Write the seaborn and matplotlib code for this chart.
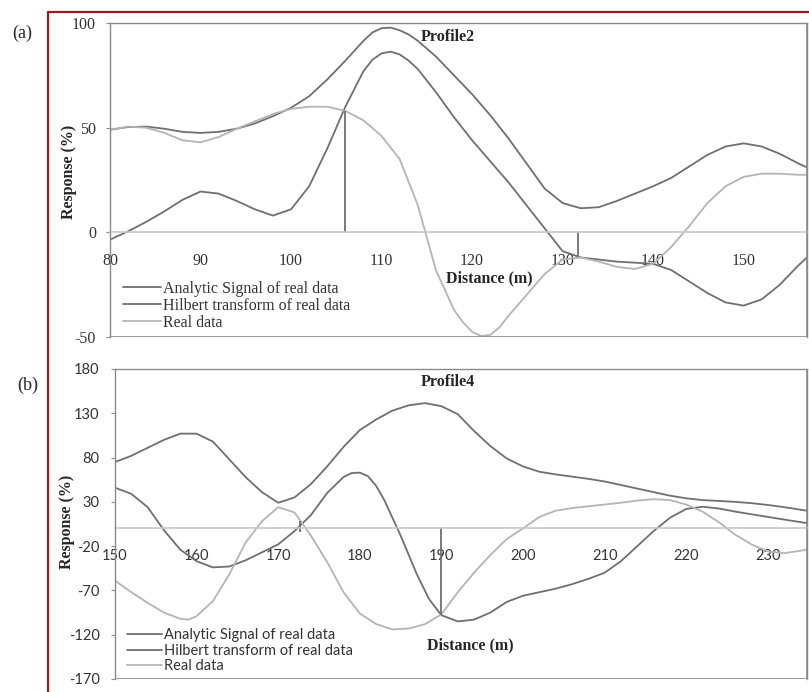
import matplotlib
matplotlib.use('Agg')
import numpy as np
import pandas as pd
import matplotlib.pyplot as plt
from matplotlib.lines import Line2D
import seaborn as sns

sns.set_style("white")
plt.rcParams['font.family'] = ['Liberation Serif', 'DejaVu Serif']
plt.rcParams['axes.unicode_minus'] = False

# Profile 2 (panel a)
dist_a = [80, 82, 84, 86, 88, 90, 92, 94, 96, 98, 100, 102, 104, 106, 108, 109, 110, 111, 112,
          113, 114, 116, 118, 120, 122, 124, 126, 128, 130, 132, 134, 136, 138, 140, 142, 144,
          146, 148, 150, 152, 154, 156, 157]
analytic_a = [49, 50.3, 50.5, 49.5, 48, 47.5, 48, 49.5, 52, 55.5, 59.5, 65, 73, 82, 91.5, 95.5,
              97.5, 97.8, 96.5, 94.5, 91.5, 84, 75, 66, 56, 45, 33, 21, 14, 11.5, 12, 15, 18.5,
              22, 26, 31.5, 37, 41, 42.5, 41, 37.5, 33, 31]
hilbert_a = [-3.5, 0.5, 5, 10, 15.5, 19.5, 18.5, 15, 11, 8, 11, 22, 40, 60, 77, 82.5, 85.5,
             86.3, 85, 82, 78, 67, 55, 44, 34, 24, 13, 2, -9, -12, -13, -14, -14.5, -15, -18,
             -23.5, -29, -33.5, -35, -32, -25, -16, -12]
dist_a_real = [80, 82, 84, 86, 88, 90, 92, 94, 96, 98, 100, 102, 104, 106, 108, 110, 112, 114,
               116, 118, 119, 120, 121, 122, 123, 124, 126, 128, 130, 132, 134, 136, 138, 140,
               142, 144, 146, 148, 150, 152, 154, 156, 157]
real_a = [49, 50.5, 50, 47.5, 44, 43, 45.5, 49.5, 53, 56.5, 59, 60, 60, 58, 53.5, 46, 35, 13,
          -18, -37, -43, -47.5, -49.5, -49, -45.5, -40, -30, -20, -13, -12, -14, -16.5, -17.5,
          -15, -7, 3, 14, 22, 26.5, 28, 28, 27.5, 27.5]
mark_a_x = [106, 131.7]
mark_a_y0 = [0, 0]
mark_a_y1 = [58, -11.5]

# Profile 4 (panel b)
dist_b = [150, 152, 154, 156, 158, 160, 162, 164, 166, 168, 170, 172, 174, 176, 178, 180,
          182, 184, 186, 188, 190, 192, 194, 196, 198, 200, 202, 204, 206, 208, 210, 212,
          214, 216, 218, 220, 222, 224, 226, 228, 230, 232, 234.8]
analytic_b = [75, 82, 91, 100, 107, 107, 98, 78, 58, 41, 29, 35, 50, 70, 92, 111, 123, 133,
              139, 141.5, 138, 129, 110, 93, 79, 70, 64, 61, 58.5, 56, 53, 49, 45, 41, 37, 34,
              32, 31, 30, 28.5, 26.5, 24, 20]
dist_b_hil = [150, 152, 154, 156, 158, 160, 162, 164, 166, 168, 170, 172, 174, 176, 178, 179,
              180, 181, 182, 183, 185, 187, 188.5, 190, 192, 194, 196, 198, 200, 202, 204, 206,
              208, 210, 212, 214, 216, 218, 220, 222, 224, 226, 228, 230, 232, 234.8]
hilbert_b = [46, 39, 24, -2, -24, -37, -44, -43, -36, -27, -18, -3, 15, 40, 58, 62.5, 63, 59,
             48, 32, -8, -52, -80, -98, -105, -103, -95, -83, -76, -72, -68, -63, -57, -50,
             -37, -20, -3, 12, 22, 24.5, 22.5, 19, 16, 13, 10, 6]
dist_b_real = [150, 152, 154, 156, 158, 159, 160, 162, 164, 166, 168, 170, 172, 174, 176, 178,
               180, 182, 184, 186, 188, 190, 192, 194, 196, 198, 200, 202, 204, 206, 208, 210,
               212, 214, 216, 218, 220, 222, 224, 226, 228, 230, 232, 234.8]
real_b = [-59, -72, -84, -95, -102, -103, -99, -82, -52, -16, 8, 24, 18, -8, -38, -72, -96,
          -108, -114, -113, -108, -97, -72, -50, -30, -12, 0, 13, 20, 23, 25, 27, 29, 31.5, 33,
          32, 27, 19, 7, -7, -18, -26, -28, -24]
mark_b_x = [172.7, 190]
mark_b_y0 = [-4, 0]
mark_b_y1 = [8, -98]

labels = ['Analytic Signal of real data', 'Hilbert transform of real data', 'Real data']
DARK = '#6f6f6f'
LIGHT = '#b4b4b4'
FRAME = '#8a8a8a'

fig = plt.figure(figsize=(8.09, 6.92), dpi=100)
ax_a = fig.add_axes([110 / 809, 1 - 337 / 692, 697 / 809, 314 / 692])
ax_b = fig.add_axes([115 / 809, 1 - 679 / 692, 692 / 809, 310 / 692])


def style_axes(ax, xlim, ylim, xticks, yticks, font, tick_size, ypad):
    ax.set_xlim(*xlim)
    ax.set_ylim(*ylim)
    ax.set_xticks(xticks)
    ax.set_yticks(yticks)
    for side in ['top', 'right', 'left']:
        ax.spines[side].set_color(FRAME)
        ax.spines[side].set_linewidth(1.0)
    ax.spines['bottom'].set_position(('data', 0))
    ax.spines['bottom'].set_color('#c8c8c8')
    ax.spines['bottom'].set_linewidth(1.2)
    ax.add_patch(plt.Rectangle((0, 0), 1, 1, transform=ax.transAxes, fill=False,
                               edgecolor=FRAME, linewidth=1.2, zorder=5))
    ax.tick_params(axis='x', direction='out', length=3, color='#c8c8c8', pad=12,
                   labelsize=tick_size, labelcolor='#333333')
    ax.tick_params(axis='y', direction='out', length=3, color=FRAME, pad=ypad,
                   labelsize=tick_size, labelcolor='#333333', left=True)
    for t in ax.get_xticklabels() + ax.get_yticklabels():
        t.set_family(font)
    ax.grid(False)


def draw(ax, xs, ys):
    for (x, y), lab, col in zip(zip(xs, ys), labels, [DARK, DARK, LIGHT]):
        df = pd.DataFrame({'Distance': x, 'Response': y})
        sns.lineplot(data=df, x='Distance', y='Response', ax=ax, color=col, linewidth=1.3,
                     label=lab, sort=False)


# panel (a)
draw(ax_a, [dist_a, dist_a, dist_a_real], [analytic_a, hilbert_a, real_a])
ax_a.vlines(mark_a_x, mark_a_y0, mark_a_y1, color=DARK, linewidth=1.3)
style_axes(ax_a, (80, 157), (-50, 100), [80, 90, 100, 110, 120, 130, 140, 150],
           [-50, 0, 50, 100], ['Liberation Serif'], 11.5, 7)
ax_a.set_xlabel('')
ax_a.set_ylabel('Response (%)', fontsize=11.5, fontweight='bold', family='Liberation Serif')
ax_a.yaxis.set_label_coords(-0.047, 0.527)
ax_a.text(0.544, 0.188, 'Distance (m)', transform=ax_a.transAxes, ha='center', va='center',
          fontsize=11.5, fontweight='bold')
ax_a.text(0.485, 0.955, 'Profile2', transform=ax_a.transAxes, ha='center', va='center',
          fontsize=11.5, fontweight='bold')
leg_a = ax_a.legend(loc='lower left', bbox_to_anchor=(0.005, -0.01), frameon=False,
                    prop={'family': 'Liberation Serif', 'size': 11.5}, handlelength=2.4,
                    handletextpad=0.1, labelspacing=0.05, borderaxespad=0.2)
for t in leg_a.get_texts():
    t.set_color('#333333')

# panel (b)
draw(ax_b, [dist_b, dist_b_hil, dist_b_real], [analytic_b, hilbert_b, real_b])
ax_b.vlines(mark_b_x, mark_b_y0, mark_b_y1, color=DARK, linewidth=1.3)
style_axes(ax_b, (150, 234.8), (-170, 180), [150, 160, 170, 180, 190, 200, 210, 220, 230],
           [-170, -120, -70, -20, 30, 80, 130, 180], ['Lato', 'DejaVu Sans'], 10.5, 8)
ax_b.set_xlabel('')
ax_b.set_ylabel('Response (%)', fontsize=11.5, fontweight='bold', family='Liberation Serif')
ax_b.yaxis.set_label_coords(-0.058, 0.506)
ax_b.text(0.513, 0.110, 'Distance (m)', transform=ax_b.transAxes, ha='center', va='center',
          fontsize=11.5, fontweight='bold')
ax_b.text(0.481, 0.958, 'Profile4', transform=ax_b.transAxes, ha='center', va='center',
          fontsize=11.5, fontweight='bold')
leg_b = ax_b.legend(loc='lower left', bbox_to_anchor=(0.005, -0.01), frameon=False,
                    prop={'family': ['Lato', 'DejaVu Sans'], 'size': 10.5}, handlelength=2.4,
                    handletextpad=0.1, labelspacing=0.1, borderaxespad=0.2)
for t in leg_b.get_texts():
    t.set_color('#333333')

# panel letters and the dark red frame
fig.text(22 / 809, 1 - 33 / 692, '(a)', ha='center', va='center', fontsize=13)
fig.text(28 / 809, 1 - 385 / 692, '(b)', ha='center', va='center', fontsize=13)
fig.add_artist(Line2D([48 / 809, 1.0], [1 - 12 / 692, 1 - 12 / 692], transform=fig.transFigure,
                      color='#9e1b1b', linewidth=1.6))
fig.add_artist(Line2D([48 / 809, 48 / 809], [0.0, 1 - 12 / 692], transform=fig.transFigure,
                      color='#9e1b1b', linewidth=1.6))

fig.savefig('out.png', dpi=100)
